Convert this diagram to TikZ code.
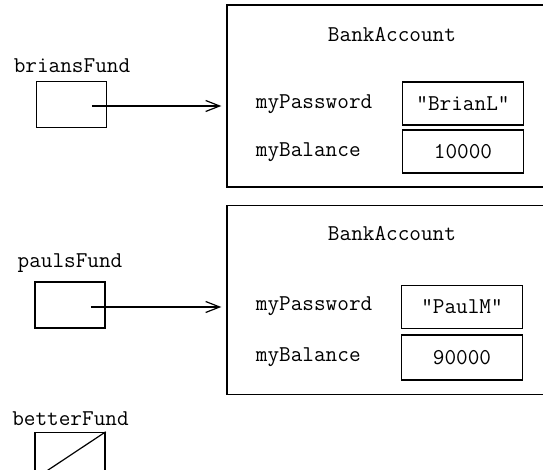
\documentclass[tikz,border=0pt]{standalone}
\usetikzlibrary{arrows.meta}
\begin{document}
\begin{tikzpicture}[x=0.5pt,y=-0.5pt,
  every node/.style={font=\fontsize{11.3}{13}\selectfont\ttfamily, inner sep=0pt},
  objbox/.style={draw, line width=0.7pt, minimum width=166.5pt},
  refbox/.style={draw, line width=0.7pt, minimum width=35pt, minimum height=23pt},
  valbox/.style={draw, line width=0.8pt, minimum width=60.5pt, minimum height=21.5pt},
  fieldlbl/.style={anchor=west},
  refarrow/.style={line width=0.6pt, -{Straight Barb[length=7pt,width=5.5pt]}, shorten >=2.5pt}]
\useasboundingbox (0,0) rectangle (543,470);
\clip (0,0) rectangle (543,470);

% first account object
\node[objbox, minimum height=91pt] (acctA) at (393.5,96) {};
\node (titleA) at (392,35) {BankAccount};
\node[fieldlbl] (pwA) at (255.5,104) {myPassword};
\node[fieldlbl] (balA) at (255.5,152) {myBalance};
\node[valbox] (pwvalA) at (463,103.5) {"BrianL"};
\node[valbox] (balvalA) at (463,151.5) {10000};

% reference briansFund
\node (brian) at (72,66) {briansFund};
\node[refbox] (brianref) at (71.5,104.5) {};
\coordinate (brianp) at (92,106);
\draw[refarrow] (brianp) -- (acctA.west |- brianp);

% second account object
\node[objbox, minimum height=94.5pt] (acctB) at (393.5,300.3) {};
\node (titleB) at (392,234) {BankAccount};
\node[fieldlbl] (pwB) at (255.5,306) {myPassword};
\node[fieldlbl] (balB) at (255.5,357) {myBalance};
\node[valbox] (pwvalB) at (462,307) {"PaulM"};
\node[valbox, minimum height=22.5pt] (balvalB) at (462,357.5) {90000};

% reference paulsFund
\node (paul) at (70,263) {paulsFund};
\node[refbox] (paulref) at (70,305) {};
\coordinate (paulp) at (91,307);
\draw[refarrow] (paulp) -- (acctB.west |- paulp);

% null reference betterFund
\node (better) at (70.5,418.5) {betterFund};
\node[refbox] (betterref) at (70,455.5) {};
\draw[line width=0.6pt] (betterref.south west) -- (betterref.north east);
\end{tikzpicture}
\end{document}
